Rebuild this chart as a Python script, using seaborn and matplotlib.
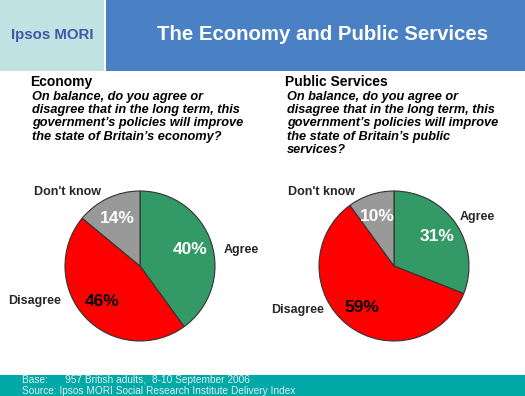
import matplotlib
matplotlib.use("Agg")
import matplotlib.pyplot as plt
from matplotlib.patches import Rectangle
import seaborn as sns

W, H = 525, 396

answers = ["Agree", "Disagree", "Don't know"]
economy = [40, 46, 14]
services = [31, 59, 10]
slice_colors = ["#339966", "#FF0000", "#999999"]
pct_colors = ["white", "black", "white"]

title = "The Economy and Public Services"
headings = ["Economy", "Public Services"]
questions = [
    "On balance, do you agree or\ndisagree that in the long term, this\n"
    "government\u2019s policies will improve\nthe state of Britain\u2019s economy?",
    "On balance, do you agree or\ndisagree that in the long term, this\n"
    "government\u2019s policies will improve\nthe state of Britain\u2019s public\nservices?",
]
footer = ["Base:      957 British adults,  8-10 September 2006",
          "Source: Ipsos MORI Social Research Institute Delivery Index"]

sns.set_theme(style="white")
plt.rcParams["font.family"] = ["Liberation Sans", "DejaVu Sans"]


def px_box(x0, y0, w, h):
    """pixel box (top-left origin) -> figure fraction rect"""
    return [x0 / W, 1 - (y0 + h) / H, w / W, h / H]


def fx(x):
    return x / W


def fy(y):
    return 1 - y / H


fig = plt.figure(figsize=(W / 100, H / 100), dpi=100)

# header
fig.add_artist(Rectangle((0, fy(71)), fx(104), 71 / H, transform=fig.transFigure,
                         facecolor="#BFE2E2", edgecolor="none"))
fig.add_artist(Rectangle((fx(106), fy(71)), fx(W - 106), 71 / H, transform=fig.transFigure,
                         facecolor="#4A80C4", edgecolor="none"))
fig.text(fx(52), fy(35), "Ipsos MORI", ha="center", va="center",
         fontsize=10.8, color="#4356A6", fontweight="bold")
fig.text(fx(323), fy(34), title, ha="center", va="center",
         fontsize=14.7, color="white", fontweight="bold")

# footer
fig.add_artist(Rectangle((0, 0), 1, 21 / H, transform=fig.transFigure,
                         facecolor="#00A9A5", edgecolor="none"))
fig.text(fx(22), fy(383), footer[0], fontsize=7.3, color="#E4ECF4", va="baseline")
fig.text(fx(22), fy(394), footer[1], fontsize=7.3, color="#E4ECF4", va="baseline")

# headings and questions
for x, head, q in zip([30, 285], headings, questions):
    fig.text(fx(x), fy(86), head, fontsize=10, fontweight="bold", color="black", va="baseline")
    fig.text(fx(x + 2), fy(91), q, fontsize=9.2, fontweight="bold", fontstyle="italic",
             color="black", va="top", linespacing=1.13)

# pies
pies = [
    (140, 266, economy, [(1.35, 0.21), (-1.40, -0.47), (-0.97, 0.99)]),
    (394, 266, services, [(1.11, 0.65), (-1.28, -0.59), (-0.96, 0.99)]),
]
for cx, cy, values, label_pos in pies:
    ax = fig.add_axes(px_box(cx - 150, cy - 150, 300, 300))
    wedges, texts, autotexts = ax.pie(
        values, colors=slice_colors, startangle=90, counterclock=False,
        autopct=lambda p: f"{round(p)}%", pctdistance=0.7, labels=answers,
        wedgeprops=dict(edgecolor="#333333", linewidth=0.8))
    for t, c in zip(autotexts, pct_colors):
        t.set_color(c)
        t.set_fontsize(12.5)
        t.set_fontweight("bold")
    for t, pos in zip(texts, label_pos):
        t.set_position(pos)
        t.set_ha("center")
        t.set_va("center")
        t.set_fontsize(9)
        t.set_fontweight("bold")
    ax.set_xlim(-2, 2)
    ax.set_ylim(-2, 2)
    ax.set_aspect("equal")
    ax.axis("off")

fig.savefig("out.png", dpi=100)
plt.close(fig)
